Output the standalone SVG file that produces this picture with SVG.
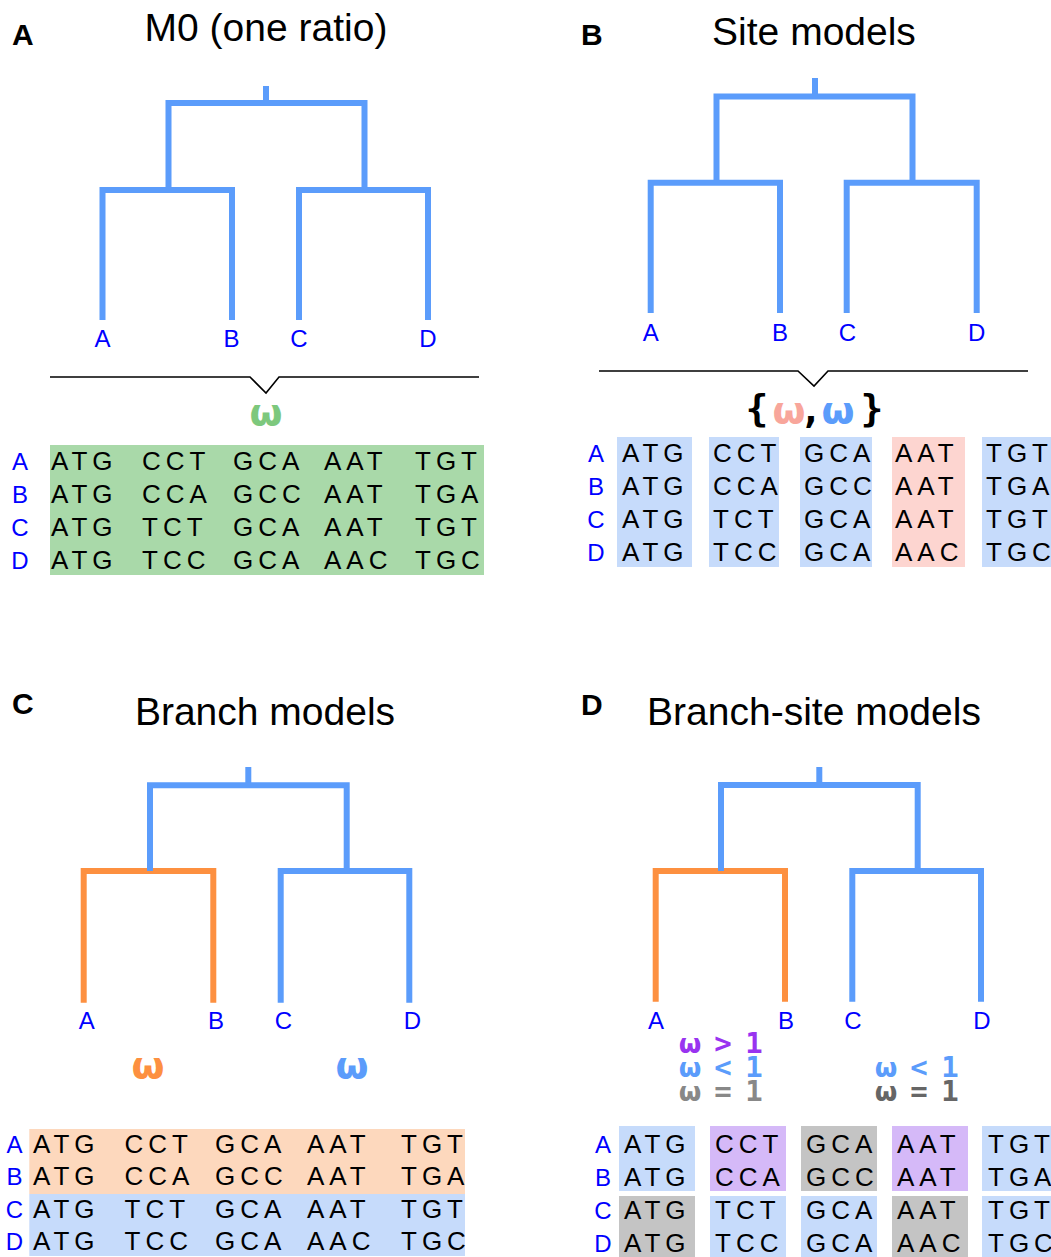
<svg xmlns="http://www.w3.org/2000/svg" width="1051" height="1257" viewBox="0 0 1051 1257">
<style>
.title{font-family:"Liberation Sans",Arial,sans-serif;font-size:39px;fill:#000;text-anchor:middle}
.plab{font-family:"Liberation Sans",Arial,sans-serif;font-size:30px;font-weight:bold;fill:#000}
.leaf{font-family:"Liberation Sans",Arial,sans-serif;font-size:24px;fill:#0000ff;text-anchor:middle}
.seq{font-family:"Liberation Sans",Arial,sans-serif;font-size:26px;fill:#000;letter-spacing:5px}
.om{font-family:"DejaVu Sans",sans-serif;font-weight:bold;text-anchor:middle}
.mo{font-family:"DejaVu Sans Mono",monospace;font-weight:bold;text-anchor:middle}
.tb{fill:none;stroke:#5b9cfb;stroke-width:6;stroke-linejoin:miter}
.to{fill:none;stroke:#fd9040;stroke-width:6;stroke-linejoin:miter}
.brace{fill:none;stroke:#000;stroke-width:1.6}
</style>
<rect width="1051" height="1257" fill="#fff"/>

<!-- Panel A -->
<g id="panelA">
<text class="plab" x="12" y="45">A</text>
<text class="title" x="266" y="41">M0 (one ratio)</text>
<g id="treeA-connectors">
<path class="tb" d="M266,86 V103"/>
<path class="tb" d="M168.5,190 V103 H364.5 V190"/>
<path class="tb" d="M102.5,320 V190 H232 V320"/>
<path class="tb" d="M299,320 V190 H428 V320"/>
</g>
<g id="A-leafA"><text class="leaf" x="102.5" y="347">A</text></g>
<g id="A-leafB"><text class="leaf" x="231.5" y="347">B</text></g>
<g id="A-leafC"><text class="leaf" x="299" y="347">C</text></g>
<g id="A-leafD"><text class="leaf" x="428" y="347">D</text></g>
<path class="brace" d="M50,377 H250 L266,393 L279,377 H479"/>
<text class="om" x="266" y="425" font-size="38" fill="#7dc87d">ω</text>
<rect x="50" y="445" width="434" height="130" fill="#a9d9a9"/>
<g class="leaf">
<text x="20" y="470">A</text><text x="20" y="503">B</text><text x="20" y="536">C</text><text x="20" y="569">D</text>
</g>
<g class="seq">
<text x="51" y="470">ATG</text><text x="142" y="470">CCT</text><text x="233" y="470">GCA</text><text x="324" y="470">AAT</text><text x="415" y="470">TGT</text>
<text x="51" y="503">ATG</text><text x="142" y="503">CCA</text><text x="233" y="503">GCC</text><text x="324" y="503">AAT</text><text x="415" y="503">TGA</text>
<text x="51" y="536">ATG</text><text x="142" y="536">TCT</text><text x="233" y="536">GCA</text><text x="324" y="536">AAT</text><text x="415" y="536">TGT</text>
<text x="51" y="569">ATG</text><text x="142" y="569">TCC</text><text x="233" y="569">GCA</text><text x="324" y="569">AAC</text><text x="415" y="569">TGC</text>
</g>
</g>

<!-- Panel B -->
<g id="panelB">
<text class="plab" x="581" y="45">B</text>
<text class="title" x="814" y="45">Site models</text>
<g id="treeB-connectors">
<path class="tb" d="M815,78 V97"/>
<path class="tb" d="M716.5,183 V96.5 H912.5 V183"/>
<path class="tb" d="M650.7,313 V182.7 H780 V313"/>
<path class="tb" d="M846.7,313 V182.7 H976.7 V313"/>
</g>
<g id="B-leafA"><text class="leaf" x="650.7" y="341">A</text></g>
<g id="B-leafB"><text class="leaf" x="780" y="341">B</text></g>
<g id="B-leafC"><text class="leaf" x="847.3" y="341">C</text></g>
<g id="B-leafD"><text class="leaf" x="976.7" y="341">D</text></g>
<path class="brace" d="M599,371 H798 L814,386 L828,371 H1028"/>
<g id="B-omega">
<text class="mo" x="757" y="421" font-size="38" fill="#000">{</text>
<text class="om" x="789" y="423" font-size="38" fill="#f8a69b">ω</text>
<text class="mo" x="811" y="423" font-size="38" fill="#000">,</text>
<text class="om" x="838" y="423" font-size="38" fill="#5b9cfb">ω</text>
<text class="mo" x="872" y="421" font-size="38" fill="#000">}</text>
</g>
<g fill="#c6dbfb">
<rect x="617" y="437" width="75" height="130"/>
<rect x="709" y="437" width="70" height="130"/>
<rect x="800" y="437" width="72" height="130"/>
<rect x="982" y="437" width="69" height="130"/>
</g>
<rect x="892" y="437" width="73" height="130" fill="#fdd5d0"/>
<g class="leaf">
<text x="596" y="462">A</text><text x="596" y="495">B</text><text x="596" y="528">C</text><text x="596" y="561">D</text>
</g>
<g class="seq">
<text x="622" y="462">ATG</text><text x="713" y="462">CCT</text><text x="804" y="462">GCA</text><text x="895" y="462">AAT</text><text x="986" y="462">TGT</text>
<text x="622" y="495">ATG</text><text x="713" y="495">CCA</text><text x="804" y="495">GCC</text><text x="895" y="495">AAT</text><text x="986" y="495">TGA</text>
<text x="622" y="528">ATG</text><text x="713" y="528">TCT</text><text x="804" y="528">GCA</text><text x="895" y="528">AAT</text><text x="986" y="528">TGT</text>
<text x="622" y="561">ATG</text><text x="713" y="561">TCC</text><text x="804" y="561">GCA</text><text x="895" y="561">AAC</text><text x="986" y="561">TGC</text>
</g>
</g>

<!-- Panel C -->
<g id="panelC">
<text class="plab" x="12" y="714">C</text>
<text class="title" x="265" y="725">Branch models</text>
<g id="treeC-connectors">
<path class="to" d="M83.7,1002.7 V871 H213.3 V1002.7"/>
<path class="tb" d="M280.7,1002.7 V871 H409.3 V1002.7"/>
<path class="tb" d="M248.3,767 V785"/>
<path class="tb" d="M150,871 V785.3 H346.7 V871"/>
</g>
<g id="C-leafA"><text class="leaf" x="86.7" y="1029">A</text></g>
<g id="C-leafB"><text class="leaf" x="216" y="1029">B</text></g>
<g id="C-leafC"><text class="leaf" x="283.3" y="1029">C</text></g>
<g id="C-leafD"><text class="leaf" x="412.3" y="1029">D</text></g>
<text class="om" x="148" y="1078" font-size="38" fill="#fd9040">ω</text>
<text class="om" x="352" y="1078" font-size="38" fill="#5b9cfb">ω</text>
<rect x="29.3" y="1129" width="435.7" height="65" fill="#fdd8bd"/>
<rect x="29.3" y="1194" width="435.7" height="62" fill="#c6dbfb"/>
<g class="leaf">
<text x="14.5" y="1153">A</text><text x="14.5" y="1185">B</text><text x="14.5" y="1218">C</text><text x="14.5" y="1250">D</text>
</g>
<g class="seq">
<text x="33" y="1153">ATG</text><text x="124.5" y="1153">CCT</text><text x="215" y="1153">GCA</text><text x="307" y="1153">AAT</text><text x="401" y="1153">TGT</text>
<text x="33" y="1185">ATG</text><text x="124.5" y="1185">CCA</text><text x="215" y="1185">GCC</text><text x="307" y="1185">AAT</text><text x="401" y="1185">TGA</text>
<text x="33" y="1218">ATG</text><text x="124.5" y="1218">TCT</text><text x="215" y="1218">GCA</text><text x="307" y="1218">AAT</text><text x="401" y="1218">TGT</text>
<text x="33" y="1250">ATG</text><text x="124.5" y="1250">TCC</text><text x="215" y="1250">GCA</text><text x="307" y="1250">AAC</text><text x="401" y="1250">TGC</text>
</g>
</g>

<!-- Panel D -->
<g id="panelD">
<text class="plab" x="581" y="715">D</text>
<text class="title" x="814" y="725">Branch-site models</text>
<g id="treeD-connectors">
<path class="to" d="M655.7,1001.7 V871 H785 V1001.7"/>
<path class="tb" d="M852.3,1001.7 V871 H981 V1001.7"/>
<path class="tb" d="M819.3,767 V785"/>
<path class="tb" d="M721,871 V785 H917.7 V871"/>
</g>
<g id="D-leafA"><text class="leaf" x="656" y="1029">A</text></g>
<g id="D-leafB"><text class="leaf" x="786" y="1029">B</text></g>
<g id="D-leafC"><text class="leaf" x="853" y="1029">C</text></g>
<g id="D-leafD"><text class="leaf" x="982" y="1029">D</text></g>
<g id="D-omega-left">
<text class="om" x="690" y="1053" font-size="26" fill="#9933f0">ω</text>
<text class="mo" x="723" y="1053" font-size="29" fill="#9933f0">&gt;</text>
<text class="mo" x="754" y="1053" font-size="29" fill="#9933f0">1</text>
<text class="om" x="690" y="1077" font-size="26" fill="#5b9cfb">ω</text>
<text class="mo" x="723" y="1077" font-size="29" fill="#5b9cfb">&lt;</text>
<text class="mo" x="754" y="1077" font-size="29" fill="#5b9cfb">1</text>
<text class="om" x="690" y="1101" font-size="26" fill="#888888">ω</text>
<text class="mo" x="723" y="1101" font-size="29" fill="#888888">=</text>
<text class="mo" x="754" y="1101" font-size="29" fill="#888888">1</text>
</g>
<g id="D-omega-right">
<text class="om" x="886" y="1077" font-size="26" fill="#5b9cfb">ω</text>
<text class="mo" x="919" y="1077" font-size="29" fill="#5b9cfb">&lt;</text>
<text class="mo" x="950" y="1077" font-size="29" fill="#5b9cfb">1</text>
<text class="om" x="886" y="1101" font-size="26" fill="#666666">ω</text>
<text class="mo" x="919" y="1101" font-size="29" fill="#666666">=</text>
<text class="mo" x="950" y="1101" font-size="29" fill="#666666">1</text>
</g>
<rect x="619" y="1126" width="76" height="65" fill="#c6dbfb"/>
<rect x="710" y="1126" width="76" height="65" fill="#d5b9f8"/>
<rect x="801" y="1126" width="76" height="65" fill="#c4c4c4"/>
<rect x="892" y="1126" width="76" height="65" fill="#d5b9f8"/>
<rect x="982" y="1126" width="69" height="65" fill="#c6dbfb"/>
<rect x="619" y="1196" width="76" height="61" fill="#c4c4c4"/>
<rect x="710" y="1196" width="76" height="61" fill="#c6dbfb"/>
<rect x="801" y="1196" width="76" height="61" fill="#c6dbfb"/>
<rect x="892" y="1196" width="76" height="61" fill="#c4c4c4"/>
<rect x="982" y="1196" width="69" height="61" fill="#c6dbfb"/>
<g class="leaf">
<text x="603" y="1153">A</text><text x="603" y="1186">B</text><text x="603" y="1219">C</text><text x="603" y="1252">D</text>
</g>
<g class="seq">
<text x="624" y="1153">ATG</text><text x="715" y="1153">CCT</text><text x="806" y="1153">GCA</text><text x="897" y="1153">AAT</text><text x="988" y="1153">TGT</text>
<text x="624" y="1186">ATG</text><text x="715" y="1186">CCA</text><text x="806" y="1186">GCC</text><text x="897" y="1186">AAT</text><text x="988" y="1186">TGA</text>
<text x="624" y="1219">ATG</text><text x="715" y="1219">TCT</text><text x="806" y="1219">GCA</text><text x="897" y="1219">AAT</text><text x="988" y="1219">TGT</text>
<text x="624" y="1252">ATG</text><text x="715" y="1252">TCC</text><text x="806" y="1252">GCA</text><text x="897" y="1252">AAC</text><text x="988" y="1252">TGC</text>
</g>
</g>
</svg>
